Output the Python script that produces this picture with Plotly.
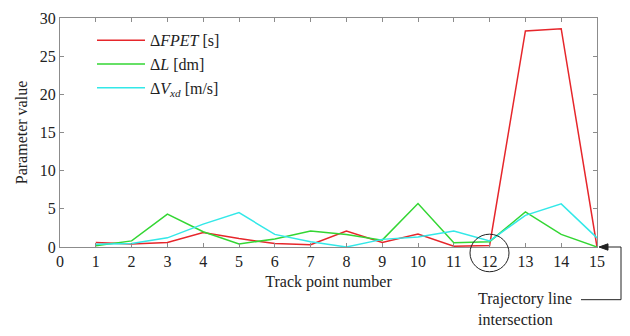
import plotly.graph_objects as go

track_points = list(range(1, 16))
fpet = [0.6, 0.4, 0.6, 1.9, 1.1, 0.45, 0.3, 2.1, 0.6, 1.7, 0.1, 0.2, 28.3, 28.6, 0.0]
dL = [0.15, 0.8, 4.3, 2.0, 0.4, 1.05, 2.1, 1.65, 0.9, 5.7, 0.55, 0.7, 4.6, 1.65, 0.0]
dVxd = [0.35, 0.45, 1.2, 3.0, 4.5, 1.65, 0.7, 0.0, 1.0, 1.3, 2.1, 0.8, 4.15, 5.65, 1.2]

x_ticks = list(range(0, 16))
y_ticks = [0, 5, 10, 15, 20, 25, 30]

FONT = "Liberation Serif"
L, R, T, B = 60, 33, 9.5, 88.7
W, H = 630, 336
pw, ph = W - L - R, H - T - B


def dx(px):
    return (px - L) / pw


def dy(py):
    return (H - B - py) / ph


fig = go.Figure()
fig.add_trace(go.Scatter(x=track_points, y=fpet, mode="lines", name="Δ<i>FPET</i> [s]",
                         line=dict(color="#e6262b", width=1.5)))
fig.add_trace(go.Scatter(x=track_points, y=dL, mode="lines", name="Δ<i>L</i> [dm]",
                         line=dict(color="#33d633", width=1.5)))
fig.add_trace(go.Scatter(x=track_points, y=dVxd, mode="lines", name="Δ<i>V</i><sub><i>xd</i></sub> [m/s]",
                         line=dict(color="#33e8e8", width=1.5)))

axis_common = dict(showgrid=False, zeroline=False, showline=True, linecolor="#8c8c8c", linewidth=1,
                   mirror="ticks", ticks="inside", ticklen=4, tickcolor="#8c8c8c",
                   tickfont=dict(family=FONT, size=16, color="#222"))

fig.update_xaxes(range=[0, 15], tickvals=x_ticks, **axis_common,
                 title=dict(text="Track point number", font=dict(family=FONT, size=16, color="#222"), standoff=6))
fig.update_yaxes(range=[0, 30], tickvals=y_ticks, **axis_common,
                 title=dict(text="Parameter value", font=dict(family=FONT, size=16, color="#222"), standoff=8))

# circle around label 12
fig.add_shape(type="circle", xref="x domain", yref="y domain",
              x0=dx(470), x1=dx(509), y0=dy(273), y1=dy(234),
              line=dict(color="#222", width=1))
# connector path
fig.add_shape(type="path", xref="x domain", yref="y domain",
              path=f"M{dx(581)},{dy(302)} L{dx(621)},{dy(302)} L{dx(621)},{dy(247.3)} L{dx(606)},{dy(247.3)}",
              line=dict(color="#222", width=1))
# arrow head
fig.add_shape(type="path", xref="x domain", yref="y domain",
              path=f"M{dx(599)},{dy(247.3)} L{dx(608)},{dy(244)} L{dx(608)},{dy(250.6)} Z",
              line=dict(color="#222", width=1), fillcolor="#222")
fig.add_annotation(xref="x domain", yref="y domain", x=dx(476), y=dy(312), xanchor="left", yanchor="middle",
                   showarrow=False, align="left",
                   text="Trajectory line<br>intersection",
                   font=dict(family=FONT, size=16, color="#222"))

fig.update_layout(
    width=W, height=H,
    margin=dict(l=L, r=R, t=T, b=B),
    plot_bgcolor="white", paper_bgcolor="white",
    font=dict(family=FONT, size=16, color="#222"),
    legend=dict(x=dx(92), y=dy(15), xanchor="left", yanchor="top", bgcolor="rgba(0,0,0,0)",
                itemwidth=48, tracegroupgap=0,
                font=dict(family=FONT, size=16, color="#222")),
)

fig.write_html("out.html")
